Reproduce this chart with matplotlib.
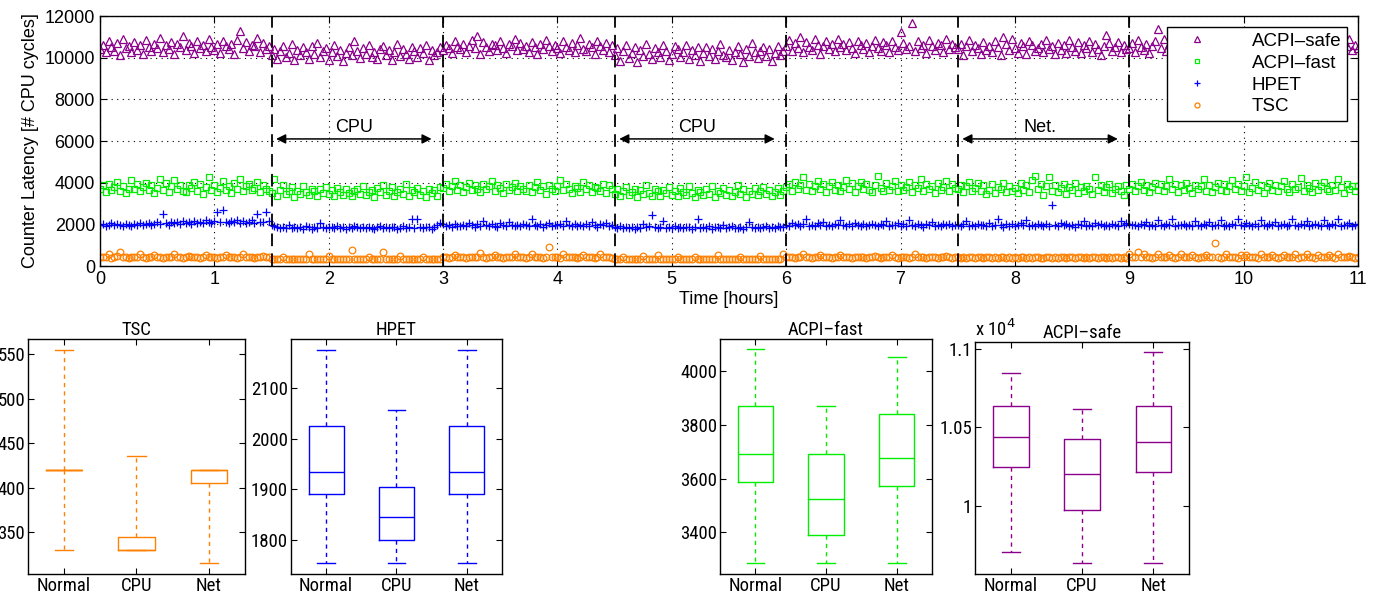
import numpy as np
import matplotlib
matplotlib.use('Agg')
import matplotlib.pyplot as plt
from matplotlib import font_manager

plt.rcParams['font.family'] = ['Liberation Sans', 'DejaVu Sans']

# sampling step of the latency trace (hours), one row = 10 samples
step = 0.025

# segments (60 samples each, last one 81): normal 0-1.5, CPU 1.5-3, normal 3-4.5,
# CPU 4.5-6, normal 6-7.5, Net 7.5-9, normal 9-11
acpi_safe = [
    10420, 10610, 10250, 10780, 10530, 10340, 10690, 10150, 10880, 10470,
    10560, 10290, 10740, 10380, 10620, 10200, 10850, 10510, 10330, 10670,
    10450, 10930, 10270, 10590, 10400, 10760, 10180, 10640, 10490, 11050,
    10360, 10710, 10550, 10230, 10820, 10460, 10600, 10310, 10900, 10520,
    10380, 10680, 10240, 10790, 10570, 10430, 10650, 10190, 10870, 11300,
    10480, 10730, 10300, 10610, 10540, 10950, 10260, 10700, 10410, 10580,
    10150, 10420, 9920, 10310, 10580, 10040, 10230, 10650, 9880, 10370,
    10110, 10490, 10260, 9960, 10540, 10190, 10720, 10020, 10330, 10450,
    9900, 10280, 10600, 10080, 10390, 9850, 10210, 10510, 10130, 10800,
    10340, 9970, 10460, 10170, 10620, 10050, 10290, 9930, 10400, 10560,
    10120, 10360, 9890, 10250, 10680, 10070, 10430, 10180, 9940, 10520,
    10300, 10010, 10470, 10220, 10590, 9870, 10380, 10140, 10270, 10490,
    10350, 10620, 10480, 10210, 10790, 10530, 10400, 10680, 10270, 10570,
    10860, 10450, 11050, 10190, 10730, 10510, 10320, 10640, 10600, 10380,
    10820, 10470, 10240, 10650, 10540, 10900, 10360, 10710, 10430, 10580,
    10290, 10750, 10500, 10180, 10670, 10410, 10830, 10560, 10330, 10620,
    10460, 10220, 10780, 10520, 10370, 10700, 10250, 10590, 10950, 10440,
    10310, 10660, 10490, 10200, 10810, 10550, 10390, 10720, 10280, 10610,
    10120, 10450, 9850, 10300, 10600, 9980, 10210, 10530, 9790, 10380,
    10070, 10640, 10160, 9920, 10470, 10250, 10010, 10590, 10330, 9880,
    10190, 10560, 10420, 10050, 10280, 10620, 9940, 10360, 10110, 10490,
    9830, 10230, 10510, 10090, 10400, 9960, 10310, 10650, 10140, 10030,
    10370, 9900, 10260, 10580, 10180, 9810, 10440, 10100, 10690, 10270,
    9970, 10340, 10520, 10060, 10410, 9860, 10220, 10570, 10150, 10320,
    10580, 10850, 10320, 10690, 10450, 11000, 10260, 10730, 10510, 10380,
    10900, 10620, 10200, 10550, 10790, 10430, 10670, 10300, 10880, 10520,
    10640, 10350, 10760, 10480, 10230, 10820, 10590, 10410, 10700, 10280,
    10540, 10870, 10460, 10330, 10740, 10610, 10250, 10800, 10500, 10370,
    11250, 10690, 10420, 10560, 11650, 10310, 10780, 10470, 10620, 10220,
    10830, 10540, 10360, 10710, 10600, 10290, 10920, 10440, 10660, 10510,
    10410, 10680, 10130, 10560, 10850, 10300, 10620, 10470, 10200, 10740,
    10390, 10580, 10260, 10820, 10500, 10110, 11000, 10660, 10350, 10900,
    10450, 10230, 10710, 10540, 10180, 10780, 10600, 10320, 10480, 10640,
    10270, 10830, 10420, 10550, 10160, 10700, 10380, 10610, 10240, 10870,
    10490, 10340, 10730, 10210, 10590, 10460, 10800, 10280, 10650, 10400,
    10140, 10570, 11100, 10690, 10310, 10510, 10760, 10250, 10620, 10430,
    10450, 10720, 10280, 10850, 10530, 10390, 10660, 10210, 10580, 10800,
    11400, 10470, 10920, 10330, 10640, 10500, 10180, 10750, 10420, 10870,
    10560, 10300, 10690, 10450, 10960, 10240, 10610, 10520, 10780, 10370,
    10650, 10430, 10830, 10290, 10570, 10710, 10400, 10890, 10510, 10620,
    10340, 10760, 10480, 10220, 10680, 10550, 10910, 10380, 10600, 10460,
    10270, 10730, 10590, 10410, 10840, 10320, 10670, 10500, 10190, 10790,
    10440, 10630, 10350, 10880, 10530, 10260, 11200, 10700, 10420, 10580,
    10810, 10360, 10650, 10480, 10230, 10740, 10550, 10900, 10390, 10610,
    10470,
]
acpi_fast = [
    3700, 3880, 3550, 3960, 3640, 3790, 4050, 3600, 3850, 3520,
    3720, 4150, 3680, 3930, 3580, 3810, 4000, 3640, 3890, 3500,
    3760, 4200, 3660, 3980, 3560, 3830, 4120, 3690, 3910, 3620,
    3540, 3870, 3730, 4020, 3610, 3940, 3480, 3800, 4250, 3670,
    3900, 3570, 3750, 4080, 3630, 3860, 3510, 3970, 3690, 4180,
    3590, 3820, 3950, 3660, 3740, 4030, 3530, 3880, 3710, 3600,
    3500, 4180, 3360, 3640, 3900, 3440, 3580, 3770, 3330, 3620,
    3480, 3850, 3540, 3400, 3720, 3590, 3370, 3680, 3520, 3810,
    3450, 3630, 3380, 3750, 3560, 3420, 3690, 3510, 3350, 3600,
    3700, 3460, 3820, 3390, 3570, 3660, 3320, 3740, 3530, 3880,
    3410, 3610, 3780, 3340, 3550, 3690, 3470, 3920, 3370, 3640,
    3530, 3760, 3430, 3590, 3310, 3710, 3490, 3650, 3360, 3800,
    3750, 3920, 3600, 3840, 4060, 3670, 3880, 3530, 3790, 4000,
    3640, 3900, 3710, 3560, 3950, 3680, 3820, 4100, 3620, 3870,
    3740, 3500, 3930, 3660, 3800, 3990, 3590, 3850, 3700, 3610,
    3890, 3540, 3770, 4020, 3650, 3860, 3480, 3910, 3720, 3580,
    3830, 4150, 3630, 3960, 3690, 3510, 3850, 3760, 3570, 4010,
    3680, 3900, 3550, 3810, 3740, 3620, 3940, 3500, 3870, 3700,
    3450, 3680, 3340, 3590, 3800, 3400, 3550, 3720, 3310, 3640,
    3470, 3900, 3520, 3380, 3700, 3580, 3350, 3660, 3500, 3780,
    3430, 3610, 3370, 3740, 3540, 3410, 3850, 3490, 3320, 3630,
    3560, 3390, 3710, 3460, 3820, 3330, 3600, 3510, 3760, 3420,
    3650, 3360, 3570, 3880, 3440, 3690, 3300, 3620, 3480, 3730,
    3390, 3590, 3810, 3450, 3670, 3340, 3540, 3760, 3410, 3620,
    3800, 3950, 3620, 4050, 3710, 3880, 4250, 3660, 3930, 3580,
    3820, 4100, 3690, 3960, 3550, 3850, 4020, 3640, 3900, 3600,
    3770, 4150, 3680, 3990, 3570, 3860, 4050, 3720, 3940, 3630,
    3530, 3890, 4300, 3750, 3610, 3970, 3670, 3830, 4080, 3590,
    3910, 3650, 3790, 4010, 3560, 3870, 3730, 4200, 3620, 3950,
    3700, 3840, 3510, 3980, 3660, 3810, 4060, 3580, 3920, 3740,
    3680, 3900, 3540, 3820, 4050, 3600, 3750, 3980, 3580, 3870,
    3460, 3640, 3930, 3520, 3800, 3690, 4000, 3560, 3850, 3620,
    3760, 3500, 3970, 3650, 3880, 3530, 4150, 4300, 3710, 3950,
    3420, 3820, 4250, 3600, 3890, 3550, 3740, 3920, 3470, 3810,
    3660, 3990, 3510, 3770, 3580, 3860, 3700, 3440, 4280, 3630,
    3900, 3550, 3790, 3960, 3490, 3720, 3840, 3610, 3400, 3880,
    3720, 3960, 3590, 3850, 4050, 3640, 3900, 3550, 3780, 4000,
    3670, 3920, 3610, 3830, 4180, 3700, 3950, 3560, 3870, 3640,
    4000, 3740, 3520, 3910, 3680, 3840, 4200, 3620, 3890, 3570,
    3800, 3980, 3660, 3930, 3600, 3860, 4150, 3690, 3950, 3580,
    3820, 4250, 3540, 3760, 4020, 3630, 3880, 3500, 3790, 3970,
    3650, 3910, 3590, 3840, 4100, 3700, 3530, 3940, 3680, 3810,
    4230, 3610, 3880, 3740, 3560, 3990, 3670, 3850, 4040, 3720,
    3580, 3900, 3640, 4200, 3770, 3520, 3930, 3690, 3860, 3600,
    3820,
]
hpet = [
    1950, 2010, 1930, 1990, 2050, 1960, 2020, 1980, 1940, 2000,
    1970, 1920, 2030, 1980, 2060, 1950, 2010, 2080, 1990, 2040,
    2100, 2020, 2500, 2060, 1990, 2130, 2050, 2090, 2030, 2150,
    2070, 2110, 2040, 2180, 2080, 2130, 2060, 2200, 2100, 2050,
    2140, 2600, 2090, 2700, 2120, 2060, 2170, 2100, 2230, 2080,
    2150, 2050, 2110, 2190, 2070, 2500, 2130, 2090, 2600, 2160,
    1960, 1900, 1860, 1820, 1880, 1840, 1950, 1810, 1870, 1830,
    1890, 1800, 1920, 1850, 1780, 1860, 1830, 2080, 1890, 1810,
    1850, 1870, 1820, 1900, 1840, 1880, 1790, 1860, 1830, 1900,
    1850, 1820, 1870, 1810, 1890, 1840, 1800, 1860, 1920, 1830,
    1870, 1810, 1850, 1880, 1790, 1840, 1900, 1820, 1860, 2250,
    1830, 2280, 1870, 1810, 1890, 1850, 1800, 1880, 1950, 2050,
    2000, 1920, 1960, 1890, 2030, 1940, 1900, 1980, 1920, 2080,
    1950, 1890, 2010, 1930, 2150, 1960, 1910, 2000, 1940, 1880,
    2050, 1970, 1920, 2100, 1950, 1900, 1990, 1930, 2040, 1960,
    1910, 2250, 1980, 1940, 2020, 1890, 1970, 2060, 1930, 1990,
    1950, 2010, 1900, 2180, 1960, 1920, 2030, 1940, 1980, 1910,
    2000, 1930, 2120, 1960, 1890, 2010, 1950, 2070, 1920, 1990,
    1880, 1830, 1900, 1810, 1860, 1840, 1890, 1800, 1870, 1820,
    2000, 1850, 1910, 2450, 1860, 1830, 1880, 2150, 1820, 1860,
    1840, 1900, 1810, 1870, 1830, 1850, 1890, 1800, 1860, 2250,
    1820, 1870, 1840, 1910, 1790, 1850, 1880, 1830, 1960, 1810,
    1860, 1900, 1820, 1840, 1870, 1800, 1890, 2100, 1850, 1830,
    1880, 1810, 1860, 1920, 1840, 1870, 1820, 1900, 1850, 1890,
    1980, 1930, 2060, 1950, 2010, 1910, 2000, 2250, 1940, 1990,
    1920, 2050, 1960, 2120, 1930, 1980, 1900, 2030, 1950, 2200,
    1970, 1920, 2010, 1940, 2080, 1960, 1910, 2000, 1930, 1990,
    2040, 1950, 1900, 2020, 1970, 2150, 1930, 1990, 1960, 2060,
    1910, 2000, 1940, 2230, 1980, 1920, 2030, 1950, 1890, 2010,
    1960, 2090, 1930, 1980, 1920, 2040, 1950, 2000, 1910, 1970,
    1960, 1920, 2010, 2150, 1940, 1980, 1900, 2030, 1950, 1990,
    1910, 2060, 1930, 1970, 2280, 1960, 1890, 2010, 1940, 2000,
    1920, 1980, 2050, 1950, 2200, 1930, 1990, 1910, 2040, 1960,
    1900, 2020, 1940, 2950, 1980, 1920, 2070, 1950, 2000, 1930,
    1970, 1890, 2030, 1960, 2180, 1940, 1990, 1920, 2060, 1950,
    2010, 1930, 1980, 1900, 2040, 1960, 1920, 2150, 1990, 2050,
    2030, 1950, 1990, 1920, 2010, 1960, 2100, 1940, 1980, 1910,
    2200, 1970, 1930, 2000, 1950, 2250, 1920, 1990, 1960, 2040,
    1930, 1980, 1910, 2150, 1970, 1940, 2000, 1950, 2100, 1920,
    1990, 1960, 2220, 1940, 1980, 1930, 2010, 1950, 2280, 1970,
    1920, 2050, 1960, 1900, 2020, 1940, 2230, 1980, 1930, 2000,
    1950, 2090, 1910, 1970, 2030, 1940, 1990, 2260, 1960, 1920,
    2010, 1950, 2150, 1930, 1980, 2040, 1960, 1900, 2200, 1970,
    1940, 2020, 1960, 2280, 1930, 1990, 1950, 2060, 1920, 1980,
    2000,
]
tsc = [
    420, 435, 420, 555, 405, 420, 480, 690, 435, 420,
    405, 420, 435, 420, 600, 420, 405, 420, 435, 510,
    420, 420, 405, 435, 420, 420, 570, 420, 435, 405,
    420, 480, 420, 435, 420, 405, 420, 540, 420, 420,
    435, 405, 420, 420, 510, 420, 435, 420, 405, 420,
    555, 420, 420, 435, 405, 420, 420, 480, 420, 435,
    330, 345, 330, 330, 435, 330, 345, 330, 330, 345,
    330, 345, 330, 600, 345, 330, 330, 345, 330, 330,
    480, 330, 345, 330, 330, 345, 330, 330, 750, 345,
    330, 330, 345, 330, 435, 330, 345, 330, 330, 660,
    345, 330, 330, 345, 330, 480, 330, 345, 330, 330,
    345, 330, 330, 450, 330, 345, 330, 330, 345, 330,
    420, 435, 405, 420, 540, 420, 420, 435, 405, 420,
    420, 435, 420, 645, 420, 405, 420, 435, 510, 420,
    420, 405, 435, 420, 420, 555, 420, 435, 420, 405,
    420, 600, 420, 435, 420, 405, 420, 900, 420, 435,
    420, 405, 555, 420, 420, 435, 420, 405, 420, 510,
    420, 435, 420, 405, 420, 600, 420, 435, 420, 405,
    330, 345, 330, 435, 330, 330, 345, 330, 330, 345,
    480, 330, 345, 330, 330, 540, 345, 330, 330, 345,
    330, 330, 435, 345, 330, 330, 345, 330, 450, 330,
    345, 330, 330, 345, 330, 330, 540, 330, 345, 330,
    330, 345, 330, 330, 435, 330, 345, 330, 330, 345,
    330, 480, 330, 345, 330, 330, 345, 330, 330, 600,
    420, 435, 420, 405, 420, 435, 555, 420, 420, 405,
    435, 420, 510, 420, 420, 435, 405, 420, 420, 540,
    420, 435, 420, 405, 420, 435, 420, 420, 405, 435,
    420, 480, 420, 405, 435, 420, 420, 510, 420, 405,
    435, 420, 420, 405, 420, 555, 420, 435, 420, 405,
    420, 420, 435, 405, 420, 420, 480, 420, 405, 435,
    420, 405, 420, 405, 420, 420, 405, 435, 420, 405,
    420, 420, 405, 420, 405, 420, 420, 405, 420, 405,
    420, 405, 420, 420, 405, 420, 405, 420, 420, 405,
    405, 420, 420, 405, 420, 405, 420, 420, 405, 420,
    420, 405, 420, 420, 405, 420, 405, 420, 435, 405,
    420, 420, 405, 420, 405, 420, 420, 405, 420, 405,
    555, 420, 435, 660, 420, 600, 420, 435, 405, 420,
    555, 420, 420, 435, 510, 420, 405, 420, 555, 435,
    420, 420, 540, 420, 405, 435, 420, 510, 420, 420,
    1120, 435, 405, 420, 555, 420, 435, 420, 405, 510,
    420, 540, 420, 435, 420, 405, 555, 420, 420, 435,
    510, 420, 405, 420, 540, 420, 435, 420, 600, 405,
    420, 435, 555, 420, 420, 405, 540, 420, 435, 420,
    510, 420, 405, 555, 420, 435, 420, 480, 420, 405,
    420,
]

# load phase boundaries and labels
boundaries = [1.5, 3.0, 4.5, 6.0, 7.5, 9.0]
phases = [(1.5, 3.0, 'CPU'), (4.5, 6.0, 'CPU'), (7.5, 9.0, 'Net.')]

# box plot statistics per counter: Normal, CPU, Net
conditions = ['Normal', 'CPU', 'Net']
box_stats = {
    'TSC': dict(whislo=[330, 330, 315], q1=[420, 330, 405], med=[420, 330, 420],
                q3=[420, 345, 420], whishi=[555, 435, 420]),
    'HPET': dict(whislo=[1754, 1754, 1754], q1=[1890, 1800, 1890], med=[1935, 1845, 1935],
                 q3=[2026, 1905, 2026], whishi=[2176, 2056, 2176]),
    'ACPI\u2013fast': dict(whislo=[3285, 3285, 3285], q1=[3586, 3390, 3571], med=[3690, 3524, 3675],
                           q3=[3870, 3690, 3840], whishi=[4081, 3870, 4051]),
    'ACPI\u2013safe': dict(whislo=[9706, 9632, 9632], q1=[10246, 9974, 10215], med=[10441, 10200, 10409],
                           q3=[10636, 10425, 10636], whishi=[10847, 10620, 10981]),
}
box_ylims = {'TSC': (303, 567), 'HPET': (1733, 2197), 'ACPI\u2013fast': (3245, 4119),
             'ACPI\u2013safe': (9563, 11047)}
box_yticks = {'TSC': [350, 400, 450, 500, 550], 'HPET': [1800, 1900, 2000, 2100],
              'ACPI\u2013fast': [3400, 3600, 3800, 4000], 'ACPI\u2013safe': [10000, 10500, 11000]}

colors = {'ACPI\u2013safe': '#8b008b', 'ACPI\u2013fast': '#00ee00', 'HPET': '#0000ff', 'TSC': '#ff8000'}
markers = {'ACPI\u2013safe': '^', 'ACPI\u2013fast': 's', 'HPET': '+', 'TSC': 'o'}
sizes = {'ACPI\u2013safe': 5.2, 'ACPI\u2013fast': 4.6, 'HPET': 5.5, 'TSC': 4.8}
series = {'ACPI\u2013safe': acpi_safe, 'ACPI\u2013fast': acpi_fast, 'HPET': hpet, 'TSC': tsc}

fig = plt.figure(figsize=(13.77, 5.95), dpi=100)

# ---- top: latency trace ----
ax = fig.add_axes([0.0726, 0.5529, 0.9136, 0.4202])
for name in ['ACPI\u2013safe', 'ACPI\u2013fast', 'HPET', 'TSC']:
    vals = np.array(series[name])
    t = np.arange(len(vals)) * step
    ax.plot(t, vals, ls='none', marker=markers[name], mfc='none', mec=colors[name],
            ms=sizes[name], mew=0.9, label=name)

for b in boundaries:
    ax.axvline(b, color='k', ls=(0, (7, 4)), lw=1.3, zorder=3)
for start, end, lab in phases:
    ax.annotate('', xy=(end - 0.1, 6100), xytext=(start + 0.04, 6100),
                arrowprops=dict(arrowstyle='<|-|>', color='k', lw=1.1,
                                mutation_scale=14, shrinkA=0, shrinkB=0))
    ax.text((start + end - 0.06) / 2, 6250, lab, ha='center', va='bottom', fontsize=13)

ax.set_xlim(0, 11)
ax.set_ylim(0, 12000)
ax.set_xticks(range(0, 12))
ax.set_yticks(range(0, 12001, 2000))
ax.grid(True, ls=(0, (1, 4)), color='k', lw=0.8)
ax.tick_params(direction='in', top=True, right=True, labelsize=13, length=5)
ax.set_xlabel('Time [hours]', fontsize=13, labelpad=2)
ax.set_ylabel('Counter Latency [# CPU cycles]', fontsize=13, labelpad=4)
for s in ax.spines.values():
    s.set_linewidth(1.0)
leg = ax.legend(loc='upper right', fontsize=13.5, numpoints=1, handlelength=2.6,
                handletextpad=1.6, labelspacing=0.25, borderpad=0.3, markerscale=0.75,
                fancybox=False, framealpha=1, edgecolor='k', borderaxespad=0.6)
leg.get_frame().set_linewidth(1.0)

# ---- bottom: box plots ----
box_axes = {'TSC': [0.0203, 0.0353, 0.1576, 0.395],
            'HPET': [0.2113, 0.0353, 0.1532, 0.395],
            'ACPI\u2013fast': [0.5229, 0.0353, 0.1540, 0.395],
            'ACPI\u2013safe': [0.7081, 0.0353, 0.1554, 0.390]}

# the small panels use a condensed face if one is installed
installed = {f.name for f in font_manager.fontManager.ttflist}
narrow = None
for cand in ['Liberation Sans Narrow', 'Roboto Condensed', 'Open Sans Condensed', 'Noto Sans Condensed']:
    if cand in installed:
        narrow = cand
        break
if narrow:
    box_font, box_size = [narrow, 'DejaVu Sans'], 13.5
else:
    box_font, box_size = ['Liberation Sans', 'DejaVu Sans'], 10.5

for name, pos in box_axes.items():
    bx = fig.add_axes(pos)
    st = box_stats[name]
    stats = [dict(whislo=st['whislo'][i], q1=st['q1'][i], med=st['med'][i],
                  q3=st['q3'][i], whishi=st['whishi'][i], fliers=[], label=conditions[i])
             for i in range(3)]
    c = colors[name]
    bx.bxp(stats, positions=[1, 2, 3], widths=0.5, showfliers=False,
           boxprops=dict(color=c, lw=1.0), medianprops=dict(color=c, lw=1.0),
           whiskerprops=dict(color=c, lw=1.0, ls=(0, (3, 3))),
           capprops=dict(color=c, lw=1.0))
    bx.set_xlim(0.5, 3.5)
    bx.set_ylim(*box_ylims[name])
    bx.set_yticks(box_yticks[name])
    bx.tick_params(direction='in', top=True, right=True, length=4, pad=2)
    if name == 'ACPI\u2013safe':
        bx.set_yticklabels(['1', '1.05', '1.1'])
        bx.text(0.0, 1.01, r'x 10$^4$', transform=bx.transAxes, ha='left', va='bottom',
                fontsize=box_size, family=box_font)
    for lab in bx.get_xticklabels() + bx.get_yticklabels():
        lab.set_family(box_font)
        lab.set_fontsize(box_size)
    bx.set_title(name, fontsize=box_size, family=box_font, pad=3)
    for s in bx.spines.values():
        s.set_linewidth(1.0)

fig.savefig('out.png', dpi=100)
